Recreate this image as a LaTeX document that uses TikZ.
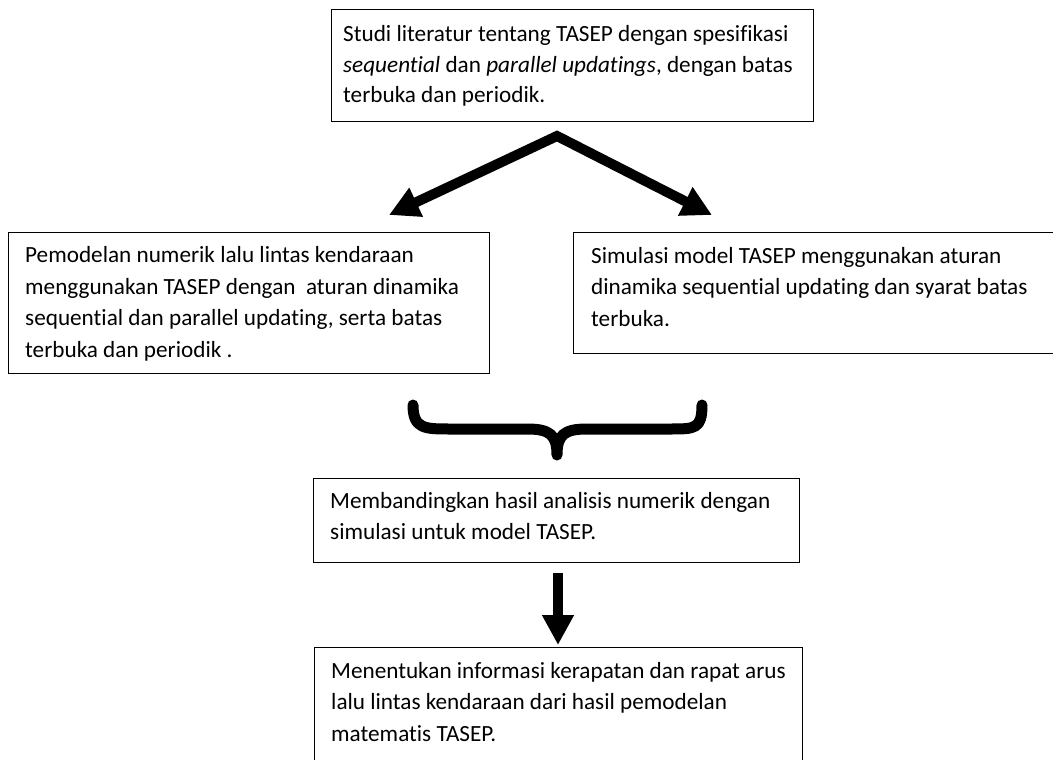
\documentclass[tikz,border=0pt]{standalone}
\usepackage{fontspec}
\setmainfont{Carlito}[Ligatures=CommonOff]
\usetikzlibrary{arrows.meta}
\tikzset{
  boxnode/.style={draw=black, line width=1.3pt, rectangle, inner sep=0pt},
  txtnode/.style={align=left, inner sep=0pt, font=\fontsize{23.2}{31.6}\selectfont},
  fatline/.style={line width=10pt, draw=black},
  headtip/.style={-{Triangle[width=30pt,length=30pt]}},
}
\begin{document}
\begin{tikzpicture}[x=1pt,y=-1pt]
\useasboundingbox (0,0) rectangle (1053,760);
% boxes
\node[boxnode, minimum width=482pt, minimum height=112pt, anchor=north west] (b1) at (331,9) {};
\node[boxnode, minimum width=481pt, minimum height=141pt, anchor=north west] (b2) at (8,232) {};
\node[boxnode, minimum width=520pt, minimum height=121pt, anchor=north west] (b3) at (573,232) {};
\node[boxnode, minimum width=486pt, minimum height=84pt, anchor=north west] (b4) at (313,478) {};
\node[boxnode, minimum width=488pt, minimum height=140pt, anchor=north west] (b5) at (314,647) {};
% texts
\node[txtnode, anchor=west, font=\fontsize{23.2}{30.6}\selectfont] (t1) at (343,66) {Studi literatur tentang TASEP dengan spesifikasi\\\textit{sequential} dan \textit{parallel updatings}, dengan batas\\terbuka dan periodik.};
\node[txtnode, anchor=west] (t2) at (25,304) {Pemodelan numerik lalu lintas kendaraan\\menggunakan TASEP dengan\ \ aturan dinamika\\sequential dan parallel updating, serta batas\\terbuka dan periodik .};
\node[txtnode, anchor=west] (t3) at (591,287) {Simulasi model TASEP menggunakan aturan\\dinamika sequential updating dan syarat batas\\terbuka.};
\node[txtnode, anchor=west] (t4) at (330,516) {Membandingkan hasil analisis numerik dengan\\simulasi untuk model TASEP.};
\node[txtnode, anchor=west] (t5) at (331,702) {Menentukan informasi kerapatan dan rapat arus\\lalu lintas kendaraan dari hasil pemodelan\\matematis TASEP.};
% split arrows
\coordinate (apex) at (557,136);
\coordinate (tipL) at (389,215);
\coordinate (tipR) at (712,215);
\draw[fatline, line join=miter, {Triangle[width=30pt,length=30pt]}-{Triangle[width=30pt,length=30pt]}] (tipL) -- (apex) -- (tipR);
% brace
\coordinate (brL) at (413,405);
\coordinate (brR) at (702,405);
\coordinate (brTip) at (557,455);
\draw[line width=11pt, line cap=round, line join=round]
  (brL) .. controls (413,429) and (425,429) .. (450,429) -- (527,429)
  .. controls (550,429) and (557,435) .. (brTip)
  .. controls (557,435) and (564,429) .. (587,429) -- (670,429)
  .. controls (695,429) and (702,429) .. (brR);
% down arrow
\coordinate (dnS) at (558,573);
\coordinate (dnE) at (558,645);
\draw[fatline, headtip] (dnS) -- (dnE);
\end{tikzpicture}
\end{document}
